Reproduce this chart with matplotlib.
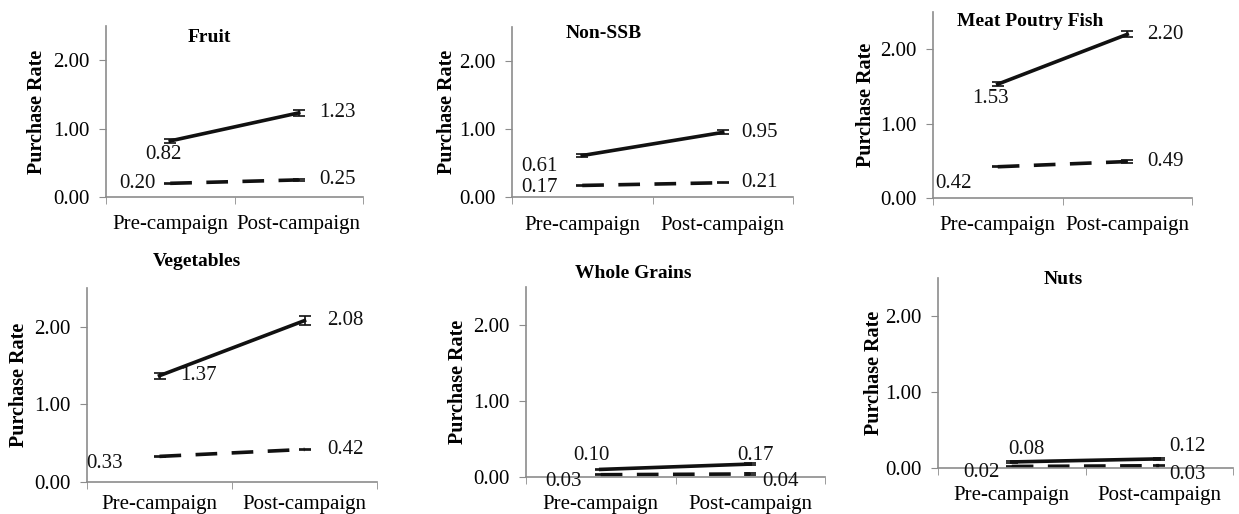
import numpy as np
import matplotlib.pyplot as plt

W, H = 1239, 514

periods = ["Pre-campaign", "Post-campaign"]
titles = ["Fruit", "Non-SSB", "Meat Poutry Fish", "Vegetables", "Whole Grains", "Nuts"]
solid_vals = [[0.82, 1.23], [0.61, 0.95], [1.53, 2.20], [1.37, 2.08], [0.10, 0.17], [0.08, 0.12]]
dashed_vals = [[0.20, 0.25], [0.17, 0.21], [0.42, 0.49], [0.33, 0.42], [0.03, 0.04], [0.02, 0.03]]
solid_err = [[0.03, 0.04], [0.02, 0.03], [0.03, 0.04], [0.04, 0.06], [0.01, 0.01], [0.01, 0.01]]
dashed_err = [[0.01, 0.01], [0.01, 0.01], [0.01, 0.02], [0.01, 0.01], [0.01, 0.01], [0.01, 0.01]]

# axes boxes in pixels: left, y of 0.00, right, y of top (2.5)
boxes = [(106, 197, 363, 26), (512, 197, 793, 27), (933, 198, 1192, 12),
         (87, 482, 377, 288), (526, 477, 825, 287), (938, 468, 1233, 278)]
# title centres and y-label centre x in pixels
title_px = [(209, 38), (604, 34), (1030, 21), (197, 262), (633, 273), (1063, 280)]
ylabel_x = [36, 446, 865, 18, 457, 873]
xlabel_pad = [13.3, 14, 13.3, 9.5, 13.3, 13.3]

# label offsets in pixels: (solid pre, solid post, dashed pre, dashed post)
offsets = [
    [(-7, -14, 'center'), (20, 0, 'left'), (-15, 0, 'right'), (20, 0, 'left')],
    [(-25, -11, 'right'), (18, 0, 'left'), (-25, -2, 'right'), (18, 0, 'left')],
    [(-7, -14, 'center'), (20, 0, 'left'), (-26, -17, 'right'), (20, 0, 'left')],
    [(21, 0, 'left'), (23, 0, 'left'), (-37, -7, 'right'), (23, 0, 'left')],
    [(-9, 14, 'center'), (5, 9, 'center'), (-37, -7, 'center'), (30, -8, 'center')],
    [(15, 12, 'center'), (10, 12, 'left'), (-30, -6, 'center'), (10, -9, 'left')],
]

plt.rcParams['font.family'] = ['Liberation Serif', 'DejaVu Serif']
fig = plt.figure(figsize=(W / 100, H / 100), dpi=100)
grey = '#8c8c8c'
fs = 15

for i in range(6):
    l, y0, r, yt = boxes[i]
    ax = fig.add_axes([l / W, (H - y0) / H, (r - l) / W, (y0 - yt) / H])
    x = np.arange(len(periods))
    ax.errorbar(x, solid_vals[i], yerr=solid_err[i], color='#111111', lw=2.6,
                capsize=4, elinewidth=1.2, capthick=1.2)
    ax.errorbar(x, dashed_vals[i], yerr=dashed_err[i], color='#111111', lw=2.6,
                capsize=4, elinewidth=1.2, capthick=1.2, dashes=(6, 4))
    vals = [solid_vals[i][0], solid_vals[i][1], dashed_vals[i][0], dashed_vals[i][1]]
    xs = [0, 1, 0, 1]
    for v, xx, (dx, dy, ha) in zip(vals, xs, offsets[i]):
        ax.annotate(f"{v:.2f}", (xx, v), xytext=(dx, dy), textcoords='offset pixels',
                    ha=ha, va='center', fontsize=fs, color='#111111')
    ax.set_xlim(-0.5, 1.5)
    ax.set_ylim(0, 2.5)
    ax.set_yticks([0, 1, 2])
    ax.set_yticklabels(["0.00", "1.00", "2.00"])
    ax.set_xticks(x)
    ax.set_xticklabels(periods)
    ax.set_xticks([-0.5, 0.5, 1.5], minor=True)
    ax.tick_params(axis='x', which='major', length=0, pad=xlabel_pad[i], labelsize=fs)
    ax.tick_params(axis='x', which='minor', length=5, color=grey, direction='out')
    ax.tick_params(axis='y', length=5, color=grey, labelsize=fs, pad=7)
    for s in ['top', 'right']:
        ax.spines[s].set_visible(False)
    for s in ['left', 'bottom']:
        ax.spines[s].set_color(grey)
        ax.spines[s].set_linewidth(1.2)
    ax.set_ylabel("Purchase Rate", fontsize=14.5, fontweight='bold')
    ax.yaxis.set_label_coords((ylabel_x[i] + 11 - l) / (r - l), 0.5)
    tx, ty = title_px[i]
    fig.text(tx / W, 1 - ty / H, titles[i], ha='center', va='center',
             fontsize=14, fontweight='bold')

fig.savefig("out.png", dpi=100)
